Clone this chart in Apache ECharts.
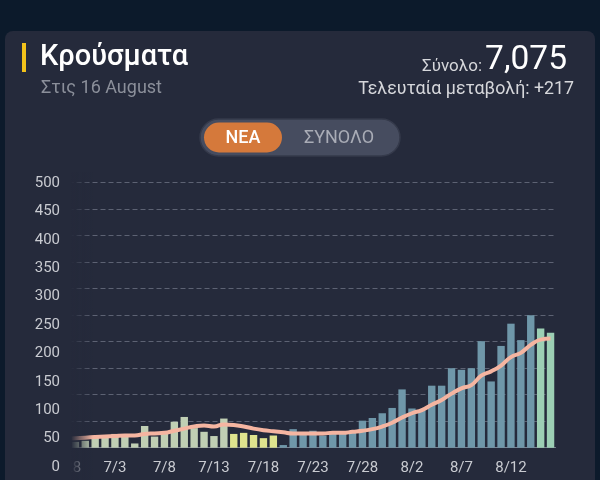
<!DOCTYPE html>
<html>
<head>
<meta charset="utf-8">
<title>Κρούσματα</title>
<script src="https://cdn.jsdelivr.net/npm/echarts@6/dist/echarts.min.js"></script>
<style>
    html, body { margin: 0; padding: 0; width: 600px; height: 480px; background: #0c1a2b; overflow: hidden; }
    .card { position: absolute; left: 5px; top: 31px; width: 590px; height: 480px; background: #252a3b; border-radius: 8px; }
    #chart { position: absolute; left: 0; top: 0; width: 600px; height: 480px; }
</style>
</head>
<body>
<div class="card"></div>
<div id="chart"></div>
<script>
// ημερομηνίες (6/28 - 8/16)
var days = ['6/28', '6/29', '6/30',
    '7/1', '7/2', '7/3', '7/4', '7/5', '7/6', '7/7', '7/8', '7/9', '7/10',
    '7/11', '7/12', '7/13', '7/14', '7/15', '7/16', '7/17', '7/18', '7/19', '7/20',
    '7/21', '7/22', '7/23', '7/24', '7/25', '7/26', '7/27', '7/28', '7/29', '7/30', '7/31',
    '8/1', '8/2', '8/3', '8/4', '8/5', '8/6', '8/7', '8/8', '8/9', '8/10',
    '8/11', '8/12', '8/13', '8/14', '8/15', '8/16'];

// νέα κρούσματα ανά ημέρα
var newCases = [15, 11, 13, 21, 24, 26, 23, 8, 41, 21,
    30, 49, 58, 37, 30, 22, 55, 26, 28, 24,
    18, 23, 5, 35, 28, 32, 23, 30, 26, 30,
    51, 56, 65, 75, 110, 74, 71, 117, 117, 150,
    147, 150, 201, 125, 192, 234, 203, 250, 225, 217];

// κινητός μέσος όρος (όπως διαβάζεται στο γράφημα)
var avgLine = [17, 18, 19, 20, 21, 22, 23, 23, 26, 27,
    28, 32, 36, 40, 42, 40, 44, 43, 40, 36,
    33, 31, 29, 27, 27, 27, 27, 28, 28, 30,
    32, 35, 40, 47, 57, 65, 71, 81, 90, 102,
    112, 118, 136, 144, 155, 171, 179, 194, 204, 206];

// ετικέτες άξονα y
var yTicks = [0, 50, 100, 150, 200, 250, 300, 350, 400, 450, 500];

// ομάδες χρωμάτων (τελευταία ημέρα κάθε ομάδας)
var lastSageDay = '7/14';
var lastYellowDay = '7/19';
var lastBlueDay = '8/14';

var colSage = '#c0cfb4', colYellow = '#dfe48e', colBlue = '#6f97a9', colGreen = '#9ccfb4';
var cardBg = '#252a3b';

function barColor(p) {
    var i = p.dataIndex;
    if (i <= days.indexOf(lastSageDay)) return colSage;
    if (i <= days.indexOf(lastYellowDay)) return colYellow;
    if (i <= days.indexOf(lastBlueDay)) return colBlue;
    return colGreen;
}

var oChart = echarts.init(document.getElementById('chart'), null, { renderer: 'canvas' });
var font = 'Roboto, "Noto Sans", sans-serif';

var option = {
    backgroundColor: 'transparent',
    animation: false,
    textStyle: { fontFamily: font },
    grid: [
        { left: 60.5, right: 44.5, top: 182.7, bottom: 32.3 },
        // στήλη ετικετών y (ξεχωριστό στοιχείο στο πρωτότυπο)
        { left: 68, width: 1, top: 183, bottom: 13 }
    ],
    xAxis: [
        {
            type: 'category',
            gridIndex: 0,
            data: days,
            boundaryGap: true,
            axisTick: { show: false },
            axisLine: { lineStyle: { color: '#7c8190', width: 1.2 } },
            axisLabel: { interval: 4, color: '#c9cbd1', fontSize: 15, margin: 13, fontFamily: font }
        },
        { type: 'value', gridIndex: 1, min: 0, max: 1, show: false }
    ],
    yAxis: [
        {
            type: 'value',
            gridIndex: 0,
            min: 0,
            max: 500,
            interval: 50,
            axisLine: { show: false },
            axisTick: { show: false },
            axisLabel: { show: false },
            splitLine: { lineStyle: { color: '#5d6273', type: [5, 3], width: 1 } }
        },
        {
            type: 'value',
            gridIndex: 1,
            min: yTicks[0],
            max: yTicks[yTicks.length - 1],
            interval: yTicks[1] - yTicks[0],
            z: 20,
            axisLine: { show: false },
            axisTick: { show: false },
            splitLine: { show: false },
            axisLabel: { color: '#c9cbd1', fontSize: 15, margin: 8, fontFamily: font }
        }
    ],
    series: [
        {
            name: 'ΝΕΑ',
            type: 'bar',
            xAxisIndex: 0,
            yAxisIndex: 0,
            data: newCases,
            barWidth: 7.4,
            itemStyle: { color: barColor },
            z: 2
        },
        {
            name: 'Μ.Ο.',
            type: 'line',
            xAxisIndex: 0,
            yAxisIndex: 0,
            data: avgLine,
            smooth: true,
            showSymbol: false,
            lineStyle: { color: '#f5b5a1', width: 4 },
            z: 3
        }
    ],
    graphic: [
        // αριστερή "κοπή" του γραφήματος (οριζόντια κύλιση)
        { type: 'rect', z: 10, shape: { x: 5, y: 172, width: 66.5, height: 310 }, style: { fill: cardBg } },
        {
            type: 'rect', z: 10, shape: { x: 71, y: 172, width: 22, height: 310 },
            style: {
                fill: new echarts.graphic.LinearGradient(0, 0, 1, 0, [
                    { offset: 0, color: 'rgba(37,42,59,1)' },
                    { offset: 1, color: 'rgba(37,42,59,0)' }
                ])
            }
        },
        // επικεφαλίδα
        { type: 'rect', shape: { x: 22, y: 43, width: 4, height: 29 }, style: { fill: '#f2c21b' } },
        { type: 'text', x: 40, y: 58, style: { text: 'Κρούσματα', fill: '#ffffff', font: '500 29px ' + font, verticalAlign: 'middle' } },
        { type: 'text', x: 41, y: 88, style: { text: 'Στις 16 August', fill: '#8b8f9a', font: '18px ' + font, verticalAlign: 'middle' } },
        { type: 'text', x: 567, y: 61, style: { text: '7,075', fill: '#ffffff', font: '33.5px ' + font, align: 'right', verticalAlign: 'middle' } },
        { type: 'text', x: 482, y: 67, style: { text: 'Σύνολο:', fill: '#d6d7db', font: '17px ' + font, align: 'right', verticalAlign: 'middle' } },
        { type: 'text', x: 574, y: 90, style: { text: 'Τελευταία μεταβολή: +217', fill: '#d6d7db', font: '17.8px ' + font, align: 'right', verticalAlign: 'middle' } },
        // διακόπτης ΝΕΑ / ΣΥΝΟΛΟ
        { type: 'rect', shape: { x: 200, y: 119, width: 200, height: 37, r: 18.5 }, style: { fill: '#464c5f', stroke: '#353a4b', lineWidth: 1.5 } },
        { type: 'rect', shape: { x: 204, y: 122.5, width: 78, height: 30, r: 15 }, style: { fill: '#d5793b' } },
        { type: 'text', x: 243, y: 138, style: { text: 'ΝΕΑ', fill: '#ffffff', font: '500 18px ' + font, align: 'center', verticalAlign: 'middle' } },
        { type: 'text', x: 339, y: 138, style: { text: 'ΣΥΝΟΛΟ', fill: '#a9acb6', font: '18px ' + font, align: 'center', verticalAlign: 'middle' } }
    ]
};

oChart.setOption(option);
</script>
</body>
</html>
